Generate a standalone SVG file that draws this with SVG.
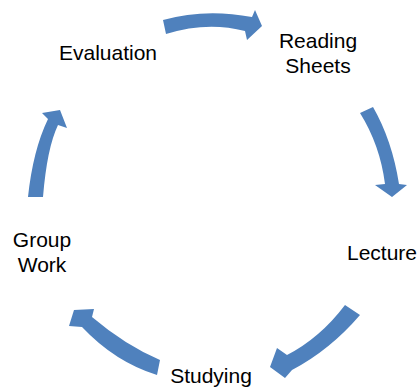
<svg xmlns="http://www.w3.org/2000/svg" width="420" height="388" viewBox="0 0 420 388">
<style>
.arrow{fill:#4F81BD;stroke:none}
.lbl{font-family:"Liberation Sans",Arial,sans-serif;font-size:21px;fill:#000;text-anchor:middle}
</style>
<rect width="420" height="388" fill="#fff"/>
<g id="connectors">
<path class="arrow" d="M163,20 Q205,8 252,17 L255,10 L262,26 L247,40 L245,31 Q207,21 166,34 Z"/>
<path class="arrow" d="M360,113 L373,107 Q392,140 399,184 L407,185 L392,197 L375,185 L385,184 Q380,145 360,113 Z"/>
<path class="arrow" d="M345,305 L360,315 Q330,350 292,370 L285,378 L270,367 L277,348 L287,355 Q320,338 345,305 Z"/>
<path class="arrow" d="M160,360 Q125,345 92,317 L94,309 L74,310 L69,326 L82,327 Q115,362 157,375 Z"/>
<path class="arrow" d="M28,197 L43,197 Q47,148 58,125 L67,128 L60,110 L42,113 L48,119 Q33,150 28,197 Z"/>
</g>
<g id="evaluation"><text class="lbl" x="108" y="60">Evaluation</text></g>
<g id="reading-sheets"><text class="lbl" x="318" y="48">Reading</text><text class="lbl" x="318" y="73">Sheets</text></g>
<g id="lecture"><text class="lbl" x="382" y="260">Lecture</text></g>
<g id="studying"><text class="lbl" x="211" y="383">Studying</text></g>
<g id="group-work"><text class="lbl" x="42" y="247">Group</text><text class="lbl" x="42" y="272">Work</text></g>
</svg>
